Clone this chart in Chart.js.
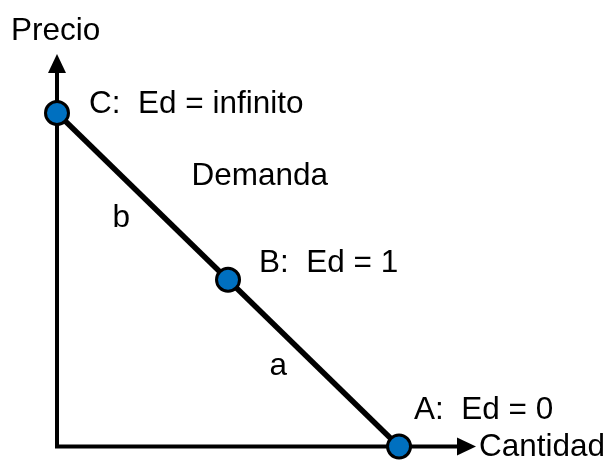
<!DOCTYPE html>
<html>
<head>
<meta charset="utf-8">
<script src="https://cdn.jsdelivr.net/npm/chart.js@4/dist/chart.umd.min.js"></script>
<style>
  html, body { margin: 0; padding: 0; background: #ffffff; }
  #wrap { width: 608px; height: 461px; }
</style>
</head>
<body>
<div id="wrap"><canvas id="c" width="608" height="461"></canvas></div>
<script>
// ---- data ----
const quantities = [0, 5, 10];          // C, B, A
const prices = [10, 5, 0];
const pointNames = ['C', 'B', 'A'];
const elasticityLabels = ['C:  Ed = infinito', 'B:  Ed = 1', 'A:  Ed = 0'];
const axisTitles = ['Precio', 'Cantidad'];
const curveLabel = 'Demanda';
const segmentLabels = ['b', 'a'];       // b: C-B segment, a: B-A segment
const axisMax = { x: 12.25, y: 11.77 };

const FONT = '31.5px "Liberation Sans", Arial, sans-serif';

const axesPlugin = {
  id: 'axesArrows',
  beforeDatasetsDraw(chart) {
    const ctx = chart.ctx;
    const xs = chart.scales.x, ys = chart.scales.y;
    const x0 = xs.getPixelForValue(0), y0 = ys.getPixelForValue(0);
    const top = ys.getPixelForValue(axisMax.y), right = xs.getPixelForValue(axisMax.x);
    const aLen = 19, aHalf = 9;
    ctx.save();
    ctx.strokeStyle = '#000';
    ctx.fillStyle = '#000';
    ctx.lineWidth = 4;
    ctx.lineCap = 'butt';
    ctx.lineJoin = 'miter';
    ctx.beginPath();
    ctx.moveTo(x0, top + aLen - 1);
    ctx.lineTo(x0, y0);
    ctx.lineTo(right - aLen + 1, y0);
    ctx.stroke();
    // vertical arrow
    ctx.beginPath();
    ctx.moveTo(x0, top);
    ctx.lineTo(x0 - aHalf, top + aLen);
    ctx.lineTo(x0 + aHalf, top + aLen);
    ctx.closePath();
    ctx.fill();
    // horizontal arrow
    ctx.beginPath();
    ctx.moveTo(right, y0);
    ctx.lineTo(right - aLen, y0 - aHalf);
    ctx.lineTo(right - aLen, y0 + aHalf);
    ctx.closePath();
    ctx.fill();
    ctx.restore();
  }
};

const labelsPlugin = {
  id: 'labels',
  afterDatasetsDraw(chart) {
    const ctx = chart.ctx;
    const xs = chart.scales.x, ys = chart.scales.y;
    const px = i => xs.getPixelForValue(quantities[i]);
    const py = i => ys.getPixelForValue(prices[i]);
    const x0 = xs.getPixelForValue(0), y0 = ys.getPixelForValue(0);
    const top = ys.getPixelForValue(axisMax.y), right = xs.getPixelForValue(axisMax.x);
    ctx.save();
    ctx.fillStyle = '#000';
    ctx.font = FONT;
    ctx.textAlign = 'left';
    ctx.textBaseline = 'alphabetic';
    // axis titles
    ctx.fillText(axisTitles[0], x0 - 46, top - 14);
    ctx.fillText(axisTitles[1], right + 3, y0 + 9);
    // point labels
    const offs = [[32, 0], [31, -8], [15, -28]];
    elasticityLabels.forEach((t, i) => {
      ctx.fillText(t, px(i) + offs[i][0], py(i) + offs[i][1]);
    });
    // curve label and segment labels
    const midCBx = (px(0) + px(1)) / 2, midCBy = (py(0) + py(1)) / 2;
    const midBAx = (px(1) + px(2)) / 2, midBAy = (py(1) + py(2)) / 2;
    ctx.fillText(curveLabel, midCBx + 49, midCBy - 11);
    ctx.fillText(segmentLabels[0], midCBx - 30, midCBy + 31);
    ctx.fillText(segmentLabels[1], midBAx - 44, midBAy + 12);
    ctx.restore();
  }
};

new Chart(document.getElementById('c'), {
  type: 'scatter',
  data: {
    datasets: [{
      label: curveLabel,
      data: quantities.map((q, i) => ({ x: q, y: prices[i], name: pointNames[i] })),
      showLine: true,
      borderColor: '#000000',
      borderWidth: 5.5,
      pointRadius: 11.5,
      pointHoverRadius: 11.5,
      pointBackgroundColor: '#0070C0',
      pointBorderColor: '#000000',
      pointBorderWidth: 3,
      clip: false
    }]
  },
  options: {
    responsive: false,
    animation: false,
    events: [],
    layout: { padding: { left: 57, right: 132, top: 54, bottom: 14 } },
    plugins: { legend: { display: false }, tooltip: { enabled: false } },
    scales: {
      x: { type: 'linear', display: false, min: 0, max: axisMax.x },
      y: { type: 'linear', display: false, min: 0, max: axisMax.y }
    }
  },
  plugins: [axesPlugin, labelsPlugin]
});
</script>
</body>
</html>
